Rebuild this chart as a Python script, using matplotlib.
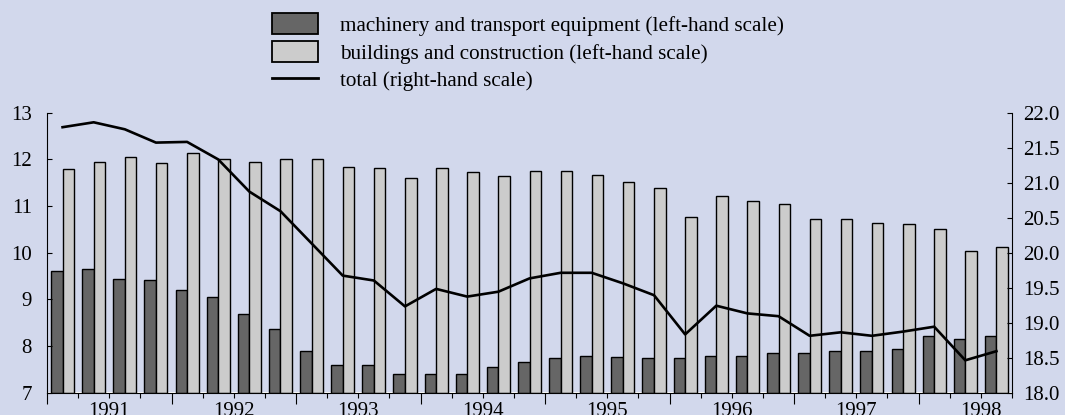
import matplotlib.pyplot as plt
from matplotlib.patches import Patch
from matplotlib.lines import Line2D
import numpy as np

# quarterly data, 1991 Q1 to 1998 Q3
years = ['1991', '1992', '1993', '1994', '1995', '1996', '1997', '1998']
machinery = [9.61, 9.64, 9.44, 9.41, 9.19, 9.04, 8.69, 8.37, 7.89, 7.58,
             7.59, 7.39, 7.39, 7.40, 7.55, 7.66, 7.74, 7.79, 7.76, 7.75,
             7.73, 7.78, 7.79, 7.84, 7.84, 7.89, 7.90, 7.94, 8.21, 8.14, 8.21]
buildings = [11.79, 11.95, 12.04, 11.91, 12.13, 12.01, 11.94, 12.01, 12.01, 11.84,
             11.80, 11.59, 11.81, 11.73, 11.63, 11.74, 11.74, 11.66, 11.52, 11.39,
             10.77, 11.21, 11.11, 11.03, 10.72, 10.72, 10.64, 10.62, 10.50, 10.04, 10.11]
total = [21.79, 21.86, 21.76, 21.57, 21.58, 21.33, 20.87, 20.59, 20.13, 19.67,
         19.60, 19.23, 19.48, 19.37, 19.44, 19.63, 19.71, 19.71, 19.56, 19.39,
         18.83, 19.24, 19.13, 19.09, 18.81, 18.86, 18.81, 18.87, 18.94, 18.46, 18.59]

bg = '#d2d8ec'
dark = '#666666'
light = '#cccccc'

plt.rcParams['font.family'] = 'Liberation Serif'
plt.rcParams['font.size'] = 15

fig = plt.figure(figsize=(10.65, 4.15), dpi=100, facecolor=bg)
ax = fig.add_axes([47 / 1065, 1 - 392.5 / 415, 965 / 1065, 280 / 415])
ax.set_facecolor(bg)

n = len(machinery)
x = np.arange(n) + 0.5
w = 0.37
ax.bar(x - w / 2, np.array(machinery) - 7, width=w, bottom=7, color=dark,
       edgecolor='black', linewidth=1)
ax.bar(x + w / 2, np.array(buildings) - 7, width=w, bottom=7, color=light,
       edgecolor='black', linewidth=1)
ax.set_xlim(0, n)
ax.set_ylim(7, 13)
ax.set_yticks(range(7, 14))

ax2 = ax.twinx()
ax2.plot(x, total, color='black', linewidth=1.9)
ax2.set_ylim(18, 22)
ax2.set_yticks(np.arange(18, 22.01, 0.5))
ax2.set_yticklabels([f'{v:.1f}' for v in np.arange(18, 22.01, 0.5)])

for a in (ax, ax2):
    a.spines['top'].set_visible(False)
    for s in a.spines.values():
        s.set_linewidth(0.8)
ax.spines['right'].set_visible(False)
ax2.spines['left'].set_visible(False)
ax2.spines['bottom'].set_visible(False)

ax.tick_params(axis='y', direction='in', length=3.5, width=0.8, pad=11)
ax2.tick_params(axis='y', direction='in', length=3.5, width=0.8, pad=8)

# year boundaries long, quarter boundaries short
ax.set_xticks(np.arange(0, n, 4))
ax.set_xticklabels([])
ax.set_xticks(np.arange(0, n + 1), minor=True)
ax.tick_params(axis='x', which='major', direction='out', length=8, width=0.8)
ax.tick_params(axis='x', which='minor', direction='out', length=3.5, width=0.8)

sec = ax.secondary_xaxis('bottom')
sec.set_xticks(np.arange(len(years)) * 4 + 2)
sec.set_xticklabels(years)
sec.tick_params(axis='x', length=0, pad=7)
sec.spines['bottom'].set_visible(False)

handles = [Patch(facecolor=dark, edgecolor='black', linewidth=1.3),
           Patch(facecolor=light, edgecolor='black', linewidth=1.3),
           Line2D([], [], color='black', linewidth=2)]
labels = ['machinery and transport equipment (left-hand scale)',
          'buildings and construction (left-hand scale)',
          'total (right-hand scale)']
fig.legend(handles, labels, loc='upper left', bbox_to_anchor=(272 / 1065, 1 - 13.5 / 415),
           frameon=False, borderpad=0, borderaxespad=0, handlelength=2.2,
           handleheight=1.12, handletextpad=1.0, labelspacing=0.25, fontsize=15.2)

fig.savefig('out.png', dpi=100, facecolor=bg)
